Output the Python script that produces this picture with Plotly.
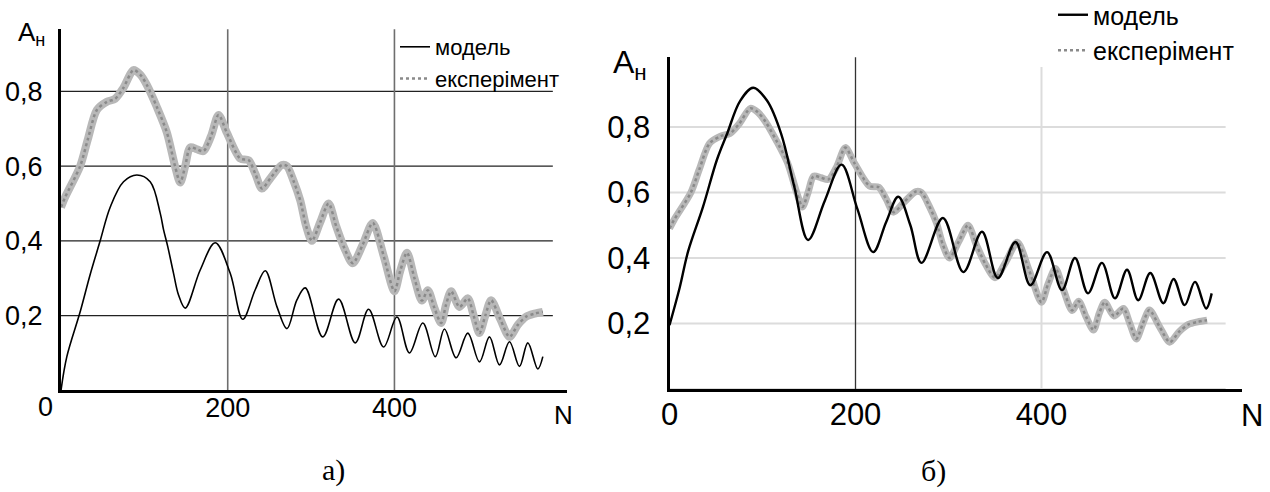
import plotly.graph_objects as go

W, H = 1270, 492

# Measured amplitude (same experiment on both panels)
exp_n = [0, 5, 23, 32, 43, 55, 65, 75, 87, 95, 103, 115, 127, 137, 143, 149, 155, 163, 171, 180,
         189, 199, 215, 225, 233, 241, 252, 265, 271, 279, 287, 294, 301, 311, 321, 330, 340, 350,
         362, 374, 387, 400, 407, 415, 424, 433, 440, 448, 456, 462, 468, 478, 488, 495, 502, 509,
         516, 527, 538, 548, 558, 568, 578]
exp_a = [0.49, 0.517, 0.60, 0.67, 0.75, 0.772, 0.78, 0.81, 0.857, 0.845, 0.817, 0.758, 0.69, 0.598,
         0.556, 0.60, 0.65, 0.645, 0.64, 0.68, 0.737, 0.689, 0.62, 0.616, 0.58, 0.54, 0.57, 0.603,
         0.60, 0.56, 0.508, 0.44, 0.40, 0.45, 0.50, 0.44, 0.38, 0.34, 0.39, 0.448, 0.36, 0.265, 0.32,
         0.368, 0.30, 0.24, 0.268, 0.22, 0.18, 0.23, 0.265, 0.223, 0.246, 0.20, 0.153, 0.20, 0.241,
         0.19, 0.143, 0.175, 0.197, 0.205, 0.21]

# Model, panel а)
model_a_n = [0, 7, 23, 35, 47, 59, 75, 91, 107, 119, 123, 128, 135, 141, 149, 167, 185, 203, 218,
             233, 245, 259, 271, 283, 293, 314, 333, 353, 369, 387, 403, 418, 434, 449, 460, 474,
             488, 502, 514, 526, 538, 550, 560, 572, 578]
model_a_v = [0.0, 0.09, 0.21, 0.31, 0.40, 0.49, 0.558, 0.576, 0.558, 0.474, 0.43, 0.385, 0.313,
             0.255, 0.22, 0.322, 0.395, 0.313, 0.19, 0.269, 0.32, 0.224, 0.165, 0.242, 0.274, 0.143,
             0.244, 0.127, 0.217, 0.116, 0.196, 0.10, 0.18, 0.09, 0.164, 0.087, 0.153, 0.076, 0.143,
             0.068, 0.13, 0.064, 0.127, 0.057, 0.09]

# Model, panel б)
model_b_n = [0, 11, 20, 36, 51, 62, 76, 90, 105, 120, 134, 149, 167, 185, 202, 219, 233, 246, 259,
             271, 294, 316, 336, 353, 372, 388, 406, 422, 436, 450, 465, 479, 492, 504, 517, 531,
             542, 554, 565, 577, 583]
model_b_v = [0.195, 0.31, 0.42, 0.556, 0.70, 0.78, 0.88, 0.92, 0.88, 0.78, 0.62, 0.455, 0.575,
             0.685, 0.55, 0.418, 0.51, 0.587, 0.50, 0.385, 0.522, 0.357, 0.48, 0.339, 0.449, 0.317,
             0.418, 0.302, 0.40, 0.292, 0.385, 0.277, 0.364, 0.271, 0.354, 0.262, 0.336, 0.256,
             0.327, 0.246, 0.292]

y_ticks = [0.2, 0.4, 0.6, 0.8]
x_grid = [200, 400]
series_names = ["модель", "експерімент"]
captions = ["а)", "б)"]

SANS = "Liberation Sans, Arial, sans-serif"
SERIF = "Liberation Serif, Times New Roman, serif"


def px(x):
    return x / W


def py(y):
    return 1 - y / H


fig = go.Figure()


def add_experiment(xa, ya, leg, band_w):
    # light wide band with a darker dotted texture on top
    fig.add_trace(go.Scatter(x=exp_n, y=exp_a, mode="lines",
                             line=dict(color="#b8b8b8", width=band_w, shape="spline", smoothing=0.8),
                             xaxis=xa, yaxis=ya, showlegend=False, hoverinfo="skip"))
    fig.add_trace(go.Scatter(x=exp_n, y=exp_a, mode="lines", name=series_names[1],
                             line=dict(color="#8a8a8a", width=2.5, dash="dot", shape="spline", smoothing=0.8),
                             xaxis=xa, yaxis=ya, legend=leg, legendrank=2))


# ---- panel а) ----
add_experiment("x", "y", "legend", 8)
fig.add_trace(go.Scatter(x=model_a_n, y=model_a_v, mode="lines", name=series_names[0],
                         line=dict(color="black", width=1.6, shape="spline", smoothing=1.0),
                         xaxis="x", yaxis="y", legend="legend", legendrank=1))

# ---- panel б) ----
add_experiment("x2", "y2", "legend2", 7)
fig.add_trace(go.Scatter(x=model_b_n, y=model_b_v, mode="lines", name=series_names[0],
                         line=dict(color="black", width=2.4, shape="spline", smoothing=1.0),
                         xaxis="x2", yaxis="y2", legend="legend2", legendrank=1))

shapes = []
# panel а) grid: dark horizontal lines, grey verticals
for v in y_ticks:
    shapes.append(dict(type="line", xref="x", yref="y", x0=0, x1=590, y0=v, y1=v,
                       line=dict(color="#222222", width=1.3), layer="below"))
for n in x_grid:
    shapes.append(dict(type="line", xref="x", yref="y", x0=n, x1=n, y0=0, y1=0.966,
                       line=dict(color="#6e6e6e", width=1.6), layer="below"))
# panel б) grid: light lines, dark vertical at 200
for v in [0] + y_ticks:
    shapes.append(dict(type="line", xref="x2", yref="y2", x0=0, x1=598, y0=v, y1=v,
                       line=dict(color="#dcdcdc", width=2), layer="below"))
shapes.append(dict(type="line", xref="x2", yref="y2", x0=x_grid[0], x1=x_grid[0], y0=0, y1=1.013,
                   line=dict(color="#333333", width=1.3), layer="below"))
shapes.append(dict(type="line", xref="x2", yref="y2", x0=x_grid[1], x1=x_grid[1], y0=0, y1=0.983,
                   line=dict(color="#dcdcdc", width=2), layer="below"))


def label(text, x, y, size, family=SANS, anchor="center"):
    return dict(text=text, x=px(x), y=py(y), xref="paper", yref="paper", xanchor=anchor,
                yanchor="middle", showarrow=False, font=dict(family=family, size=size, color="black"))


annotations = [
    label("A<sub>н</sub>", 16, 34, 26, anchor="left"),
    label("A<sub>н</sub>", 611, 64, 32, anchor="left"),
    label("N", 563, 415, 26),
    label("N", 1252, 415, 31),
    label("0", 45.5, 407, 27),  # origin label of panel а)
    label(captions[0], 333, 470, 30, family=SERIF),
    label(captions[1], 933, 471, 30, family=SERIF),
]

axis_common = dict(showline=True, linecolor="black", showgrid=False, zeroline=False, ticks="",
                   fixedrange=True)

fig.update_layout(
    width=W, height=H,
    margin=dict(l=0, r=0, t=0, b=0, autoexpand=False),
    paper_bgcolor="white", plot_bgcolor="white",
    separators=", ",
    xaxis=dict(domain=[px(61), px(567)], range=[0, 607], anchor="y", tickvals=x_grid,
               tickfont=dict(family=SANS, size=27, color="black"), linewidth=3,
               ticklabelstandoff=-9, **axis_common),
    yaxis=dict(domain=[py(390.3), py(29)], range=[0, 0.9668], anchor="x", tickvals=y_ticks,
               tickformat=".1f", tickfont=dict(family=SANS, size=27, color="black"), linewidth=3,
               ticklabelstandoff=10, **axis_common),
    xaxis2=dict(domain=[px(669.5), px(1242)], range=[0, 615.6], anchor="y2", tickvals=[0] + x_grid,
                tickfont=dict(family=SANS, size=31, color="black"), linewidth=3,
                ticklabelstandoff=-4, **axis_common),
    yaxis2=dict(domain=[py(389), py(57)], range=[0, 1.0137], anchor="x2", tickvals=y_ticks,
                tickformat=".1f", tickfont=dict(family=SANS, size=31, color="black"), linewidth=3,
                ticklabelstandoff=10, **axis_common),
    legend=dict(x=px(395), y=py(26), xanchor="left", yanchor="top", bgcolor="rgba(0,0,0,0)",
                font=dict(family=SANS, size=22, color="black"), tracegroupgap=0,
                itemwidth=30),
    legend2=dict(x=px(1053), y=py(-8), xanchor="left", yanchor="top", bgcolor="rgba(0,0,0,0)",
                 font=dict(family=SANS, size=25, color="black"), tracegroupgap=0,
                 itemwidth=30),
    shapes=shapes,
    annotations=annotations,
    showlegend=True,
)

fig.write_html("out.html")
